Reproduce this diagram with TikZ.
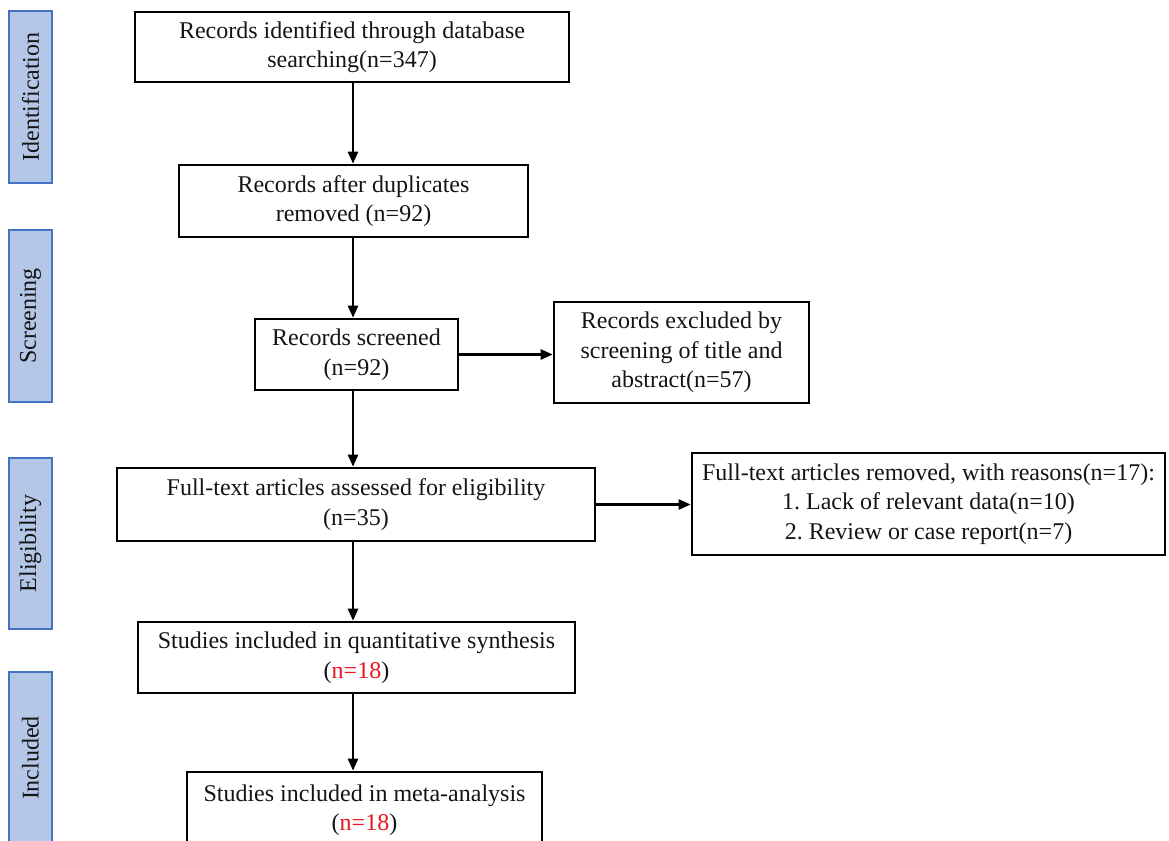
\documentclass[tikz,border=0pt]{standalone}
\usepackage{fontspec}
\setmainfont{Liberation Serif}
\usetikzlibrary{arrows.meta}
\definecolor{barfill}{HTML}{B4C7E7}
\definecolor{barline}{HTML}{4472C4}
\definecolor{nred}{HTML}{E8141C}
\definecolor{ink}{HTML}{141414}
\frenchspacing
\begin{document}
\frenchspacing
\begin{tikzpicture}[x=1pt,y=-1pt,
  box/.style={draw=black, line width=2.6pt, align=center, inner sep=0pt, text=ink,
    font=\fontsize{24}{29.5}\selectfont\frenchspacing},
  phase/.style={draw=barline, fill=barfill, line width=1.6pt, inner sep=0pt, rotate=90,
    minimum height=43pt, text=ink, font=\fontsize{24}{29}\selectfont},
  arr/.style={line width=2.4pt, -{Triangle[length=12pt,width=10pt]}}]
\useasboundingbox (0,0) rectangle (1169,840);
% phase bars
\node[phase, minimum width=172pt] (p1) at (30.5,97) {Identification};
\node[phase, minimum width=172pt] (p2) at (30.5,316) {Screening};
\node[phase, minimum width=171pt] (p3) at (30.5,543.5) {Eligibility};
\node[phase, minimum width=172pt] (p4) at (30.5,758) {Included};
% boxes
\node[box, minimum width=434pt, minimum height=70pt] (b1) at (352,47)
  {Records identified through database\\searching(n=347)};
\node[box, minimum width=349pt, minimum height=72pt] (b2) at (353.5,201)
  {Records after duplicates\\removed (n=92)};
\node[box, minimum width=203pt, minimum height=71pt] (b3) at (356.5,354.5)
  {Records screened\\(n=92)};
\node[box, minimum width=255pt, minimum height=101pt] (b4) at (681.5,352.5)
  {Records excluded by\\screening of title and\\abstract(n=57)};
\node[box, minimum width=478pt, minimum height=73pt] (b5) at (356,504.5)
  {Full-text articles assessed for eligibility\\(n=35)};
\node[box, minimum width=473pt, minimum height=102pt] (b6) at (928.5,504)
  {Full-text articles removed, with reasons(n=17):\\1. Lack of relevant data(n=10)\\2. Review or case report(n=7)};
\node[box, minimum width=437pt, minimum height=71pt] (b7) at (356.5,657.5)
  {Studies included in quantitative synthesis\\(\textcolor{nred}{n=18})};
\node[box, minimum width=355pt, minimum height=76pt] (b8) at (364.5,810)
  {Studies included in meta-analysis\\(\textcolor{nred}{n=18})};
% connectors
\coordinate (tx) at (353,0);
\draw[arr] (b1.south -| tx) -- (b2.north -| tx);
\draw[arr] (b2.south -| tx) -- (b3.north -| tx);
\draw[arr] (b3.south -| tx) -- (b5.north -| tx);
\draw[arr] (b5.south -| tx) -- (b7.north -| tx);
\draw[arr] (b7.south -| tx) -- (b8.north -| tx);
\draw[arr] (b3.east) -- (b4.west |- b3.east);
\draw[arr] (b5.east) -- (b6.west |- b5.east);
\end{tikzpicture}
\end{document}
